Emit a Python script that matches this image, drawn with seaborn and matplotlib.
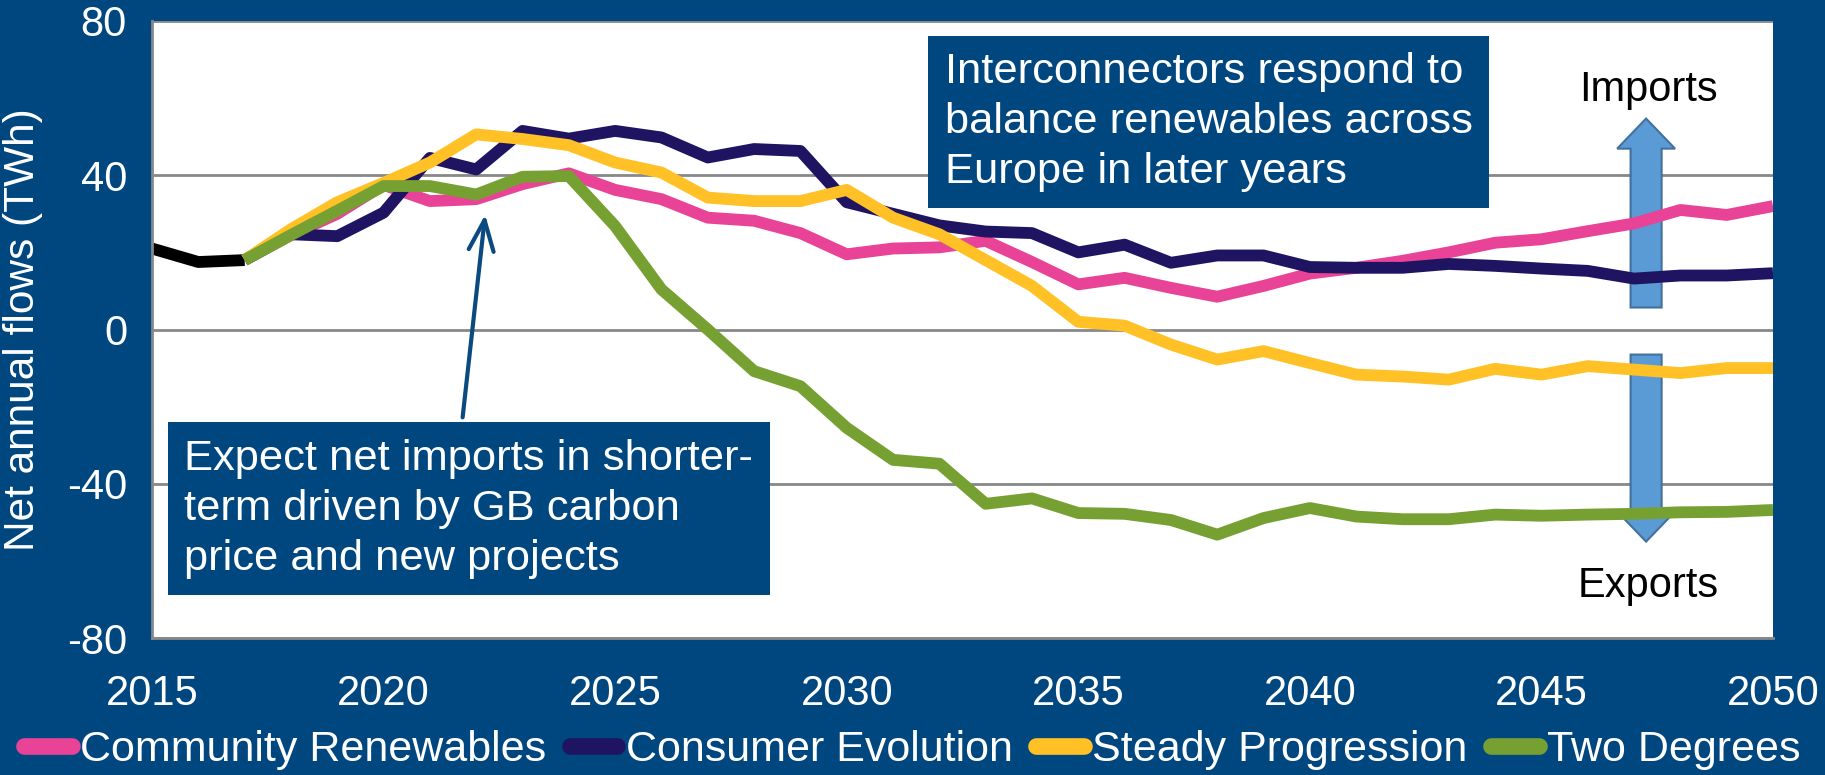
import numpy as np
import pandas as pd
import seaborn as sns
import matplotlib.pyplot as plt
from matplotlib.patches import FancyArrow

# history (black) and scenario series, TWh
hist_years = [2015, 2016, 2017]
hist_vals = [21, 17.5, 18]

years = list(range(2017, 2051))
community = [18, 24.5, 30, 37.5, 33.3, 33.8, 37.7, 40.5, 36.2, 33.8, 29, 28.2, 25, 19.5, 21, 21.3, 23,
             17.5, 11.7, 13.4, 10.8, 8.5, 11.3, 14.5, 16, 17.8, 20, 22.5, 23.4, 25.5, 27.5, 31, 29.7, 32]
consumer = [18, 24.7, 24.2, 30.3, 44.5, 41.5, 51.5, 49.5, 51.5, 49.8, 44.6, 46.8, 46.3, 33, 30, 27, 25.4,
            25, 20, 22, 17.3, 19.2, 19.2, 16.2, 16, 16, 17, 16.5, 15.8, 15.2, 13.2, 14, 14, 14.6]
steady = [18, 26, 33, 38, 43.3, 50.6, 49.4, 47.8, 43.3, 40.7, 34.2, 33.3, 33.3, 36.2, 29, 24.7, 18,
          11.3, 2, 1, -3.9, -7.8, -5.6, -8.7, -11.7, -12.2, -13, -10.2, -11.7, -9.5, -10.4, -11.3, -10, -10]
two_deg = [18, 24.5, 30.8, 37.2, 37.2, 35, 39.6, 39.8, 26.8, 10.4, 0, -10.8, -14.7, -25.5, -33.8, -34.8,
           -45.2, -43.8, -47.6, -47.8, -49.4, -53.2, -48.9, -46.3, -48.5, -49.2, -49.2, -48, -48.3, -48,
           -47.8, -47.4, -47.3, -46.8]

names = ["Community Renewables", "Consumer Evolution", "Steady Progression", "Two Degrees"]
colors = {"Community Renewables": "#E84396", "Consumer Evolution": "#1F1462",
          "Steady Progression": "#FFC125", "Two Degrees": "#76A132"}

bg = "#01477F"
grey = "#888888"

df = pd.DataFrame({
    "year": years * 4,
    "value": community + consumer + steady + two_deg,
    "scenario": np.repeat(names, len(years)),
})
hist = pd.DataFrame({"year": hist_years, "value": hist_vals})

sns.set_style("white")
plt.rcParams["font.family"] = ["Liberation Sans", "DejaVu Sans"]
plt.rcParams["axes.unicode_minus"] = False

fig = plt.figure(figsize=(18.25, 7.75), dpi=100, facecolor=bg)
ax = fig.add_axes([152 / 1825, 1 - 638 / 775, (1773 - 152) / 1825, (638 - 21) / 775])
ax.set_facecolor("white")

sns.lineplot(data=hist, x="year", y="value", color="black", linewidth=8.5, ax=ax,
             solid_joinstyle="round", solid_capstyle="butt")
sns.lineplot(data=df, x="year", y="value", hue="scenario", hue_order=names, palette=colors,
             linewidth=8.5, ax=ax, solid_joinstyle="round", solid_capstyle="butt")

ax.set_xlim(2015, 2050)
ax.set_ylim(-80, 80)
ax.set_xticks(range(2015, 2051, 5))
ax.set_yticks([-80, -40, 0, 40, 80])
ax.yaxis.grid(True, color=grey, linewidth=2)
ax.set_axisbelow(True)
for s in ["top", "right"]:
    ax.spines[s].set_visible(False)
for s in ["left", "bottom"]:
    ax.spines[s].set_color(grey)
    ax.spines[s].set_linewidth(2)
ax.tick_params(axis="y", direction="out", length=8, width=2, color=grey, labelcolor="white",
               labelsize=30, pad=10)
ax.tick_params(axis="x", direction="out", length=12, width=2, color=grey, labelcolor="white",
               labelsize=30, pad=14)
ax.set_xlabel("")
ax.set_ylabel("Net annual flows (TWh)", color="white", fontsize=30.5)
ax.yaxis.set_label_coords(-0.067, 0.5)

# legend along the bottom
handles, labels = ax.get_legend_handles_labels()
ax.get_legend().remove()
leg = fig.legend(handles, labels, loc="center", bbox_to_anchor=(0.5, 1 - 750 / 775), ncol=4,
                 frameon=False, fontsize=31, handlelength=1.1, handletextpad=0.2,
                 columnspacing=0.55, borderaxespad=0)
for t in leg.get_texts():
    t.set_color("white")
for h in leg.get_lines():
    h.set_linewidth(12)
    h.set_solid_capstyle("round")

# text boxes
ax.text(2032.12, 53.8, "Interconnectors respond to\nbalance renewables across\nEurope in later years",
        fontsize=31.3, color="white", va="center", ha="left", linespacing=1.32,
        bbox=dict(boxstyle="square,pad=0.38", facecolor=bg, edgecolor="none"))
ax.text(2015.7, -46.5, "Expect net imports in shorter-\nterm driven by GB carbon\nprice and new projects",
        fontsize=31.3, color="white", va="center", ha="left", linespacing=1.32,
        bbox=dict(boxstyle="square,pad=0.38", facecolor=bg, edgecolor="none"))
ax.annotate("", xy=(2022.2, 30.5), xytext=(2021.7, -23.5),
            arrowprops=dict(arrowstyle="->,head_length=2.2,head_width=0.9", color="#0B4A80", lw=3))

# imports / exports arrows
ax.add_patch(FancyArrow(2047.26, 5.7, 0, 49, width=0.67, head_width=1.25, head_length=7.8,
                        length_includes_head=True, facecolor="#5B9BD5", edgecolor="#41719C", lw=1.5))
ax.add_patch(FancyArrow(2047.26, -6.5, 0, -48.5, width=0.67, head_width=1.25, head_length=7.8,
                        length_includes_head=True, facecolor="#5B9BD5", edgecolor="#41719C", lw=1.5))
ax.text(2047.3, 62, "Imports", fontsize=30, color="black", ha="center", va="center")
ax.text(2047.3, -66.5, "Exports", fontsize=30, color="black", ha="center", va="center")

fig.savefig("out.png", dpi=100, facecolor=bg)
